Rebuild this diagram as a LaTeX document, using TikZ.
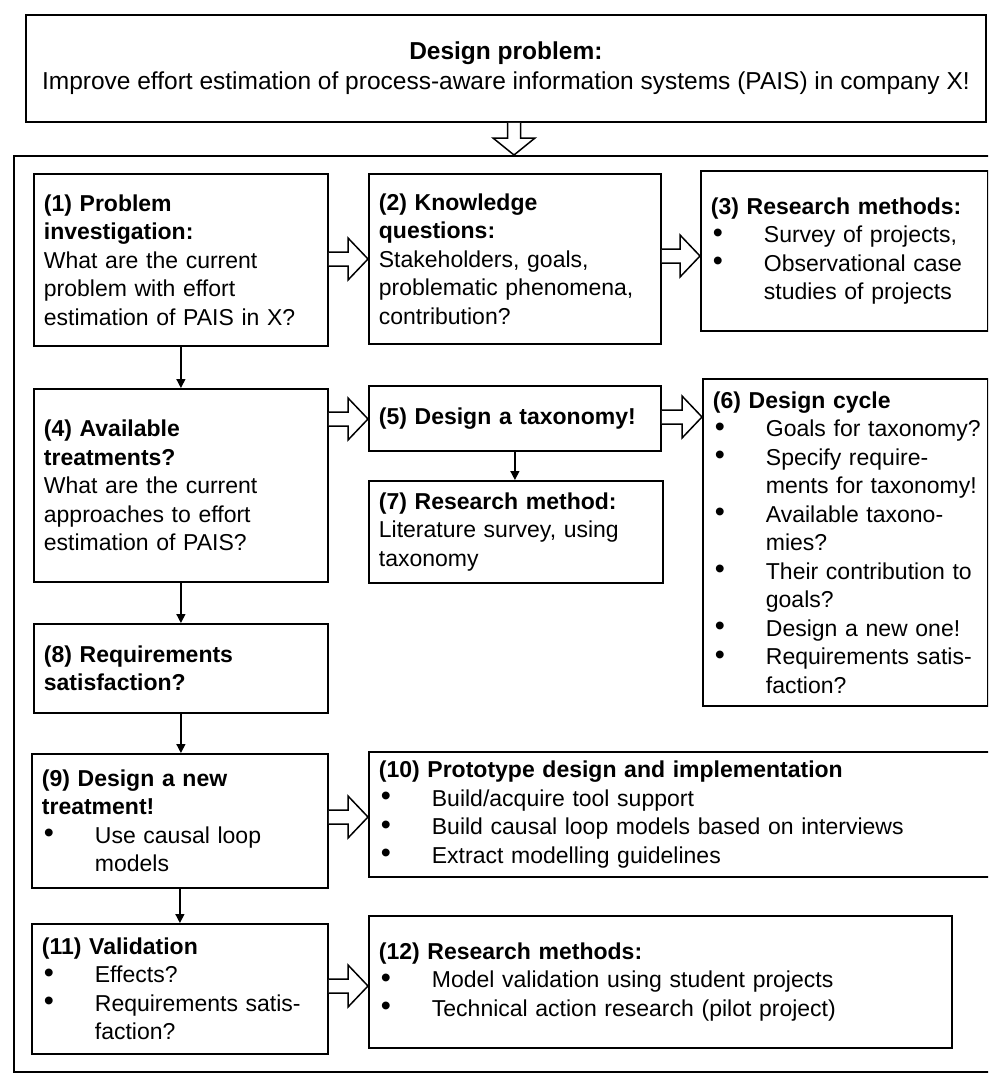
\documentclass[tikz,border=0pt]{standalone}
\usepackage{fontspec}
\setmainfont{Liberation Sans}
\usetikzlibrary{calc,arrows.meta}
\newcommand\bul[1]{\mbox{\makebox[53pt][l]{\hspace{2pt}\raisebox{0.02em}{\scalebox{1.25}{\textbullet}}}#1}}
\newcommand\cnt[1]{\mbox{\hspace*{53pt}#1}}
\newcommand\hollowR[3]{%
  \path (0,#3) coordinate (hy);
  \draw[harrow] ($(#1.east|-hy)+(0,-7)$) -- ($(#2.west|-hy)+(-20,-7)$) -- ++(0,-14) -- (#2.west|-hy) -- ($(#2.west|-hy)+(-20,21)$) -- ++(0,-14) -- ($(#1.east|-hy)+(0,7)$);}
\tikzset{
  box/.style={draw, line width=1.8pt, anchor=north west, inner xsep=10pt, inner ysep=0pt, align=left, font=\fontsize{23}{28.5}\selectfont},
  harrow/.style={draw, line width=1.5pt, fill=white, line join=miter},
  tarrow/.style={line width=1.4pt, -{Triangle[length=9pt,width=9pt]}}
}
\begin{document}
\begin{tikzpicture}[x=1pt,y=-1pt]
\useasboundingbox (0,0) rectangle (988,1076);
\clip (0,0) rectangle (988,1076);
\fill[white] (0,0) rectangle (988,1076);
% top box
\node[draw, line width=1.8pt, anchor=north west, minimum width=960pt, minimum height=107pt, align=center, font=\fontsize{24.5}{30}\selectfont] (top) at (25,14)
  {\textbf{Design problem:}\\Improve effort estimation of process-aware information systems (PAIS) in company X!};
% outer box
\node[draw, line width=1.8pt, anchor=north west, minimum width=995pt, minimum height=916pt] (outer) at (13,155) {};
% inner boxes
\node[box, minimum width=294pt, minimum height=172pt, text width=274pt] (b1) at (33,173)
  {\textbf{(1) Problem}\\\textbf{investigation:}\\What are the current\\problem with effort\\estimation of PAIS in X?};
\node[box, minimum width=292pt, minimum height=170pt, text width=272pt] (b2) at (368,173)
  {\textbf{(2) Knowledge}\\\textbf{questions:}\\Stakeholders, goals,\\problematic phenomena,\\contribution?};
\node[box, minimum width=287pt, minimum height=160pt, text width=267pt] (b3) at (700,170)
  {\textbf{(3) Research methods:}\\\bul{Survey of projects,}\\\bul{Observational case}\\\cnt{studies of projects}};
\node[box, minimum width=294pt, minimum height=193pt, text width=274pt] (b4) at (33,388)
  {\textbf{(4) Available}\\\textbf{treatments?}\\What are the current\\approaches to effort\\estimation of PAIS?};
\node[box, minimum width=292pt, minimum height=65pt, text width=272pt] (b5) at (368,385)
  {\textbf{(5) Design a taxonomy!}};
\node[box, minimum width=285pt, minimum height=327pt, text width=265pt] (b6) at (702,378)
  {\textbf{(6) Design cycle}\\\bul{Goals for taxonomy?}\\\bul{Specify require-}\\\cnt{ments for taxonomy!}\\\bul{Available taxono-}\\\cnt{mies?}\\\bul{Their contribution to}\\\cnt{goals?}\\\bul{Design a new one!}\\\bul{Requirements satis-}\\\cnt{faction?}};
\node[box, minimum width=294pt, minimum height=102pt, text width=274pt] (b7) at (368,480)
  {\textbf{(7) Research method:}\\Literature survey, using\\taxonomy};
\node[box, minimum width=294pt, minimum height=89pt, text width=274pt] (b8) at (33,623)
  {\textbf{(8) Requirements}\\\textbf{satisfaction?}};
\node[box, minimum width=296pt, minimum height=134pt, text width=276pt] (b9) at (31,753)
  {\textbf{(9) Design a new}\\\textbf{treatment!}\\\bul{Use causal loop}\\\cnt{models}};
\node[box, minimum width=640pt, minimum height=125pt, text width=620pt] (b10) at (368,751)
  {\textbf{(10) Prototype design and implementation}\\\bul{Build/acquire tool support}\\\bul{Build causal loop models based on interviews}\\\bul{Extract modelling guidelines}};
\node[box, minimum width=296pt, minimum height=130pt, text width=276pt] (b11) at (31,923)
  {\textbf{(11) Validation}\\\bul{Effects?}\\\bul{Requirements satis-}\\\cnt{faction?}};
\node[box, minimum width=583pt, minimum height=132pt, text width=563pt] (b12) at (368,915)
  {\textbf{(12) Research methods:}\\\bul{Model validation using student projects}\\\bul{Technical action research (pilot project)}};
% hollow arrows
\hollowR{b1}{b2}{259}
\hollowR{b2}{b3}{256}
\hollowR{b4}{b5}{419}
\hollowR{b5}{b6}{417}
\hollowR{b9}{b10}{817}
\hollowR{b11}{b12}{986}
\path (514,0) coordinate (hx);
\draw[harrow] ($(top.south -| hx)+(-6.5,0)$) -- ($(outer.north -| hx)+(-6.5,-17)$) -- ++(-14.5,0) -- (outer.north -| hx) -- ($(outer.north -| hx)+(21,-17)$) -- ++(-14.5,0) -- ($(top.south -| hx)+(6.5,0)$);
% thin arrows
\draw[tarrow] (b1.south) -- (b4.north);
\draw[tarrow] (b4.south) -- (b8.north);
\draw[tarrow] (b8.south) -- (b8.south |- b9.north);
\draw[tarrow] (b9.south) -- (b9.south |- b11.north);
\draw[tarrow] (b5.south) -- (b5.south |- b7.north);
\end{tikzpicture}
\end{document}
